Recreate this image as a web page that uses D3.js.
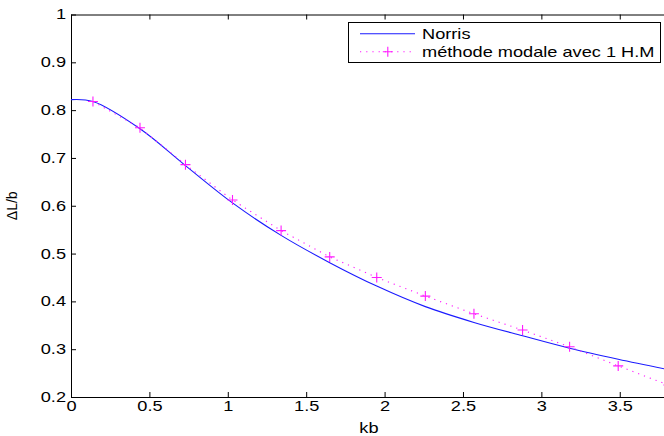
<!DOCTYPE html>
<html>
<head>
<meta charset="utf-8">
<script src="https://cdn.jsdelivr.net/npm/d3@7"></script>
<style>
  body { margin: 0; background: #fff; }
  svg { display: block; }
  text { font-family: 'Liberation Sans', Arial, sans-serif; font-size: 14px; fill: #000; }
</style>
</head>
<body>
<script>
const width = 664
const height = 436

// Norris curve
const norrisKb = [0, 0.14, 0.44, 0.73, 1.03, 1.34, 1.65, 1.95, 2.26, 2.57, 2.88, 3.18, 3.49, 3.8]
const norrisVal = [0.822, 0.818, 0.761, 0.684, 0.606, 0.538, 0.481, 0.432, 0.389, 0.356, 0.328, 0.302, 0.279, 0.258]

// modal method with 1 H.M
const modalKb = [0.14, 0.44, 0.73, 1.03, 1.34, 1.65, 1.95, 2.26, 2.57, 2.88, 3.18, 3.49, 3.81]
const modalVal = [0.818, 0.763, 0.686, 0.612, 0.548, 0.493, 0.450, 0.411, 0.374, 0.340, 0.305, 0.265, 0.225]

const xTicks = [0, 0.5, 1, 1.5, 2, 2.5, 3, 3.5]
const yTicks = [0.2, 0.3, 0.4, 0.5, 0.6, 0.7, 0.8, 0.9, 1]
const seriesNames = ['Norris', 'méthode modale avec 1 H.M']
const seriesColors = ['#1a1aff', '#ff1aff']

const plotLeft = 71
const plotRight = 666.8
const plotTop = 14.5
const plotBottom = 397
const stretch = 1.3

const svg = d3.select('body').append('svg')
  .attr('width', width)
  .attr('height', height)

const xScale = d3.scaleLinear().domain([0, 3.8]).range([plotLeft, plotRight])
const yScale = d3.scaleLinear().domain([0.2, 1]).range([plotBottom, plotTop])

svg.append('defs').append('clipPath').attr('id', 'plot')
  .append('rect')
  .attr('x', plotLeft).attr('y', plotTop)
  .attr('width', plotRight - plotLeft).attr('height', plotBottom - plotTop)

// axes, ticks pointing inward like matlab (right side falls outside the picture)
const fmt = d3.format('~g')
svg.append('g')
  .attr('transform', `translate(0, ${plotBottom})`)
  .call(d3.axisBottom(xScale).tickValues(xTicks).tickFormat(fmt).tickSizeInner(-5).tickSizeOuter(0).tickPadding(4))
const yAxisG = svg.append('g')
  .attr('transform', `translate(${plotLeft}, 0)`)
  .call(d3.axisLeft(yScale).tickValues(yTicks).tickFormat(fmt).tickSizeInner(-5).tickSizeOuter(0))
svg.append('g')
  .attr('transform', `translate(0, ${plotTop})`)
  .call(d3.axisTop(xScale).tickValues(xTicks).tickFormat('').tickSizeInner(-5).tickSizeOuter(0))

svg.selectAll('.domain, .tick line').attr('stroke', '#000').attr('stroke-width', 1)
svg.selectAll('.tick text')
  .attr('transform', `scale(${stretch},1)`)
svg.selectAll('g').attr('font-family', null).attr('font-size', null)
yAxisG.selectAll('.tick text').attr('x', -5 / stretch)

// Norris
const line = d3.line()
  .x(function (d) { return xScale(d[0]) })
  .y(function (d) { return yScale(d[1]) })
  .curve(d3.curveCatmullRom.alpha(0.5))
svg.append('path')
  .datum(norrisKb.map(function (k, i) { return [k, norrisVal[i]] }))
  .attr('clip-path', 'url(#plot)')
  .attr('d', line)
  .style('fill', 'none')
  .style('stroke', seriesColors[0])
  .style('stroke-width', 1.1)

// modal method: dotted line + plus markers
const modal = modalKb.map(function (k, i) { return [k, modalVal[i]] })
const dotted = d3.line()
  .x(function (d) { return xScale(d[0]) })
  .y(function (d) { return yScale(d[1]) })
svg.append('path')
  .datum(modal)
  .attr('clip-path', 'url(#plot)')
  .attr('d', dotted)
  .style('fill', 'none')
  .style('stroke', seriesColors[1])
  .style('stroke-width', 1.1)
  .style('stroke-dasharray', '1.2,5')

const plus = 'M-5,0H5M0,-5V5'
svg.append('g').attr('clip-path', 'url(#plot)')
  .selectAll('path')
  .data(modal)
  .enter()
  .append('path')
  .attr('transform', function (d) { return `translate(${xScale(d[0])},${yScale(d[1])})` })
  .attr('d', plus)
  .style('stroke', seriesColors[1])
  .style('stroke-width', 1.1)

// axis labels
svg.append('text')
  .attr('transform', `translate(${(plotLeft + plotRight) / 2}, 433) scale(${stretch},1)`)
  .attr('text-anchor', 'middle')
  .text('kb')
svg.append('text')
  .attr('transform', `translate(17, ${(plotTop + plotBottom) / 2}) rotate(-90)`)
  .attr('text-anchor', 'middle')
  .text('ΔL/b')

// legend
const legend = svg.append('g')
legend.append('rect')
  .attr('x', 348.5).attr('y', 22.5)
  .attr('width', 312).attr('height', 40)
  .style('fill', '#fff')
  .style('stroke', '#000')
  .style('stroke-width', 1)
const legendRows = legend.selectAll('g.row')
  .data(seriesNames)
  .enter()
  .append('g')
  .attr('class', 'row')
  .attr('transform', function (d, i) { return `translate(0, ${33.8 + i * 18})` })
legendRows.append('path')
  .attr('d', 'M360,0H415')
  .style('fill', 'none')
  .style('stroke', function (d, i) { return seriesColors[i] })
  .style('stroke-width', 1.1)
  .style('stroke-dasharray', function (d, i) { return i === 1 ? '1.2,5' : null })
legendRows.filter(function (d, i) { return i === 1 })
  .append('path')
  .attr('transform', 'translate(387.8,0)')
  .attr('d', plus)
  .style('fill', 'none')
  .style('stroke', seriesColors[1])
  .style('stroke-width', 1.1)
legendRows.append('text')
  .attr('transform', `translate(422, 5.2) scale(${stretch},1)`)
  .text(function (d) { return d })
</script>
</body>
</html>
